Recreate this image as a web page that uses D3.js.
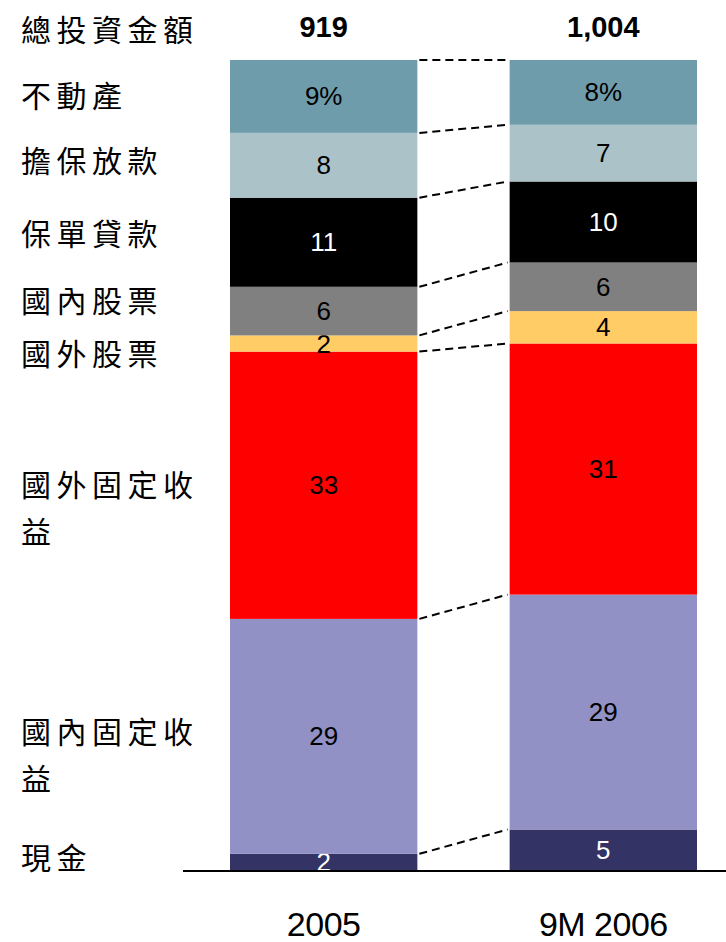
<!DOCTYPE html>
<html>
<head>
<meta charset="utf-8">
<script src="https://cdn.jsdelivr.net/npm/d3@7"></script>
<style>
  body { margin: 0; background: #fff; }
  svg { display: block; }
</style>
</head>
<body>
<svg id="chart"></svg>
<script>
const years = ["2005", "9M 2006"];
const totals = ["919", "1,004"];
const categories = ["不動產", "擔保放款", "保單貸款", "國內股票", "國外股票", "國外固定收益", "國內固定收益", "現金"];
const share2005 = [9, 8, 11, 6, 2, 33, 29, 2];
const share9M2006 = [8, 7, 10, 6, 4, 31, 29, 5];
const colors = ["#6f9cab", "#abc2c8", "#000000", "#808080", "#ffcc66", "#ff0000", "#9191c6", "#333366"];
const whiteText = ["保單貸款", "現金"];

const width = 726, height = 942;
const svg = d3.select("#chart").attr("width", width).attr("height", height);

const rows = years.map((y, i) => {
  const r = { year: y };
  categories.forEach((c, j) => (r[c] = [share2005, share9M2006][i][j]));
  return r;
});

// stack from the bottom (cash) upward
const keys = categories.slice().reverse();
const series = d3.stack().keys(keys)(rows);

const x = d3.scaleBand().domain(years).range([230, 697]).paddingInner(0.33).paddingOuter(0);
const y = d3.scaleLinear().domain([0, 100]).range([870, 60]);
const color = d3.scaleOrdinal().domain(categories).range(colors);

const layers = svg.append("g").selectAll("g").data(series).join("g")
  .attr("fill", (s) => color(s.key));

layers.selectAll("rect").data((s) => s.map((d) => ({ key: s.key, d })))
  .join("rect")
  .attr("x", (p) => x(p.d.data.year))
  .attr("width", x.bandwidth())
  .attr("y", (p) => y(p.d[1]))
  .attr("height", (p) => y(p.d[0]) - y(p.d[1]));

layers.selectAll("text").data((s) => s.map((d) => ({ key: s.key, d })))
  .join("text")
  .attr("x", (p) => x(p.d.data.year) + x.bandwidth() / 2)
  .attr("y", (p) => (y(p.d[0]) + y(p.d[1])) / 2)
  .attr("text-anchor", "middle")
  .attr("dominant-baseline", "central")
  .attr("font-family", "Arial, 'Liberation Sans', sans-serif")
  .attr("font-size", 26)
  .attr("fill", (p) => (whiteText.includes(p.key) ? "#fff" : "#000"))
  .text((p) => (p.key === categories[0] ? p.d.data[p.key] + "%" : p.d.data[p.key]));

// dashed connectors between segment tops
const x0 = x(years[0]) + x.bandwidth() + 2;
const x1 = x(years[1]) - 2;
svg.append("g").selectAll("line").data(series).join("line")
  .attr("x1", x0).attr("x2", x1)
  .attr("y1", (s) => y(s[0][1]))
  .attr("y2", (s) => y(s[1][1]))
  .attr("stroke", "#000")
  .attr("stroke-width", 2)
  .attr("stroke-dasharray", "8,5");

// baseline
svg.append("line")
  .attr("x1", 183).attr("x2", width)
  .attr("y1", y(0) + 1).attr("y2", y(0) + 1)
  .attr("stroke", "#000").attr("stroke-width", 2);

// totals row
svg.append("text")
  .attr("x", 21).attr("y", 28)
  .attr("dominant-baseline", "central")
  .attr("font-family", "'Noto Sans CJK TC', sans-serif")
  .attr("font-size", 30).attr("letter-spacing", 5.5)
  .text("總投資金額");

svg.append("g").selectAll("text").data(years).join("text")
  .attr("x", (d) => x(d) + x.bandwidth() / 2)
  .attr("y", 27)
  .attr("text-anchor", "middle")
  .attr("dominant-baseline", "central")
  .attr("font-family", "Arial, 'Liberation Sans', sans-serif")
  .attr("font-weight", "bold")
  .attr("font-size", 29)
  .text((d, i) => totals[i]);

// year labels
svg.append("g").selectAll("text").data(years).join("text")
  .attr("x", (d) => x(d) + x.bandwidth() / 2)
  .attr("y", 936)
  .attr("text-anchor", "middle")
  .attr("font-family", "Arial, 'Liberation Sans', sans-serif")
  .attr("font-size", 34)
  .attr("letter-spacing", -0.5)
  .text((d) => d);

// category labels on the left, placed at mean segment centre, pushed apart
const labelPos = categories.map((c) => {
  const s = series.find((t) => t.key === c);
  return d3.mean(s, (d) => (y(d[0]) + y(d[1])) / 2);
});
let prev = 28;
const placed = labelPos.map((p) => {
  const v = Math.max(p, prev + 53);
  prev = v;
  return v;
});

const lab = svg.append("g").selectAll("text").data(categories).join("text")
  .attr("x", 21)
  .attr("y", (d, i) => placed[i])
  .attr("dominant-baseline", "central")
  .attr("font-family", "'Noto Sans CJK TC', sans-serif")
  .attr("font-size", 30)
  .attr("letter-spacing", 5.5);

lab.each(function (d) {
  const parts = d.match(/.{1,5}/g);
  d3.select(this).selectAll("tspan").data(parts).join("tspan")
    .attr("x", 21)
    .attr("dy", (t, k) => (k === 0 ? (parts.length > 1 ? 6 : 0) : 47))
    .text((t) => t);
});
</script>
</body>
</html>
